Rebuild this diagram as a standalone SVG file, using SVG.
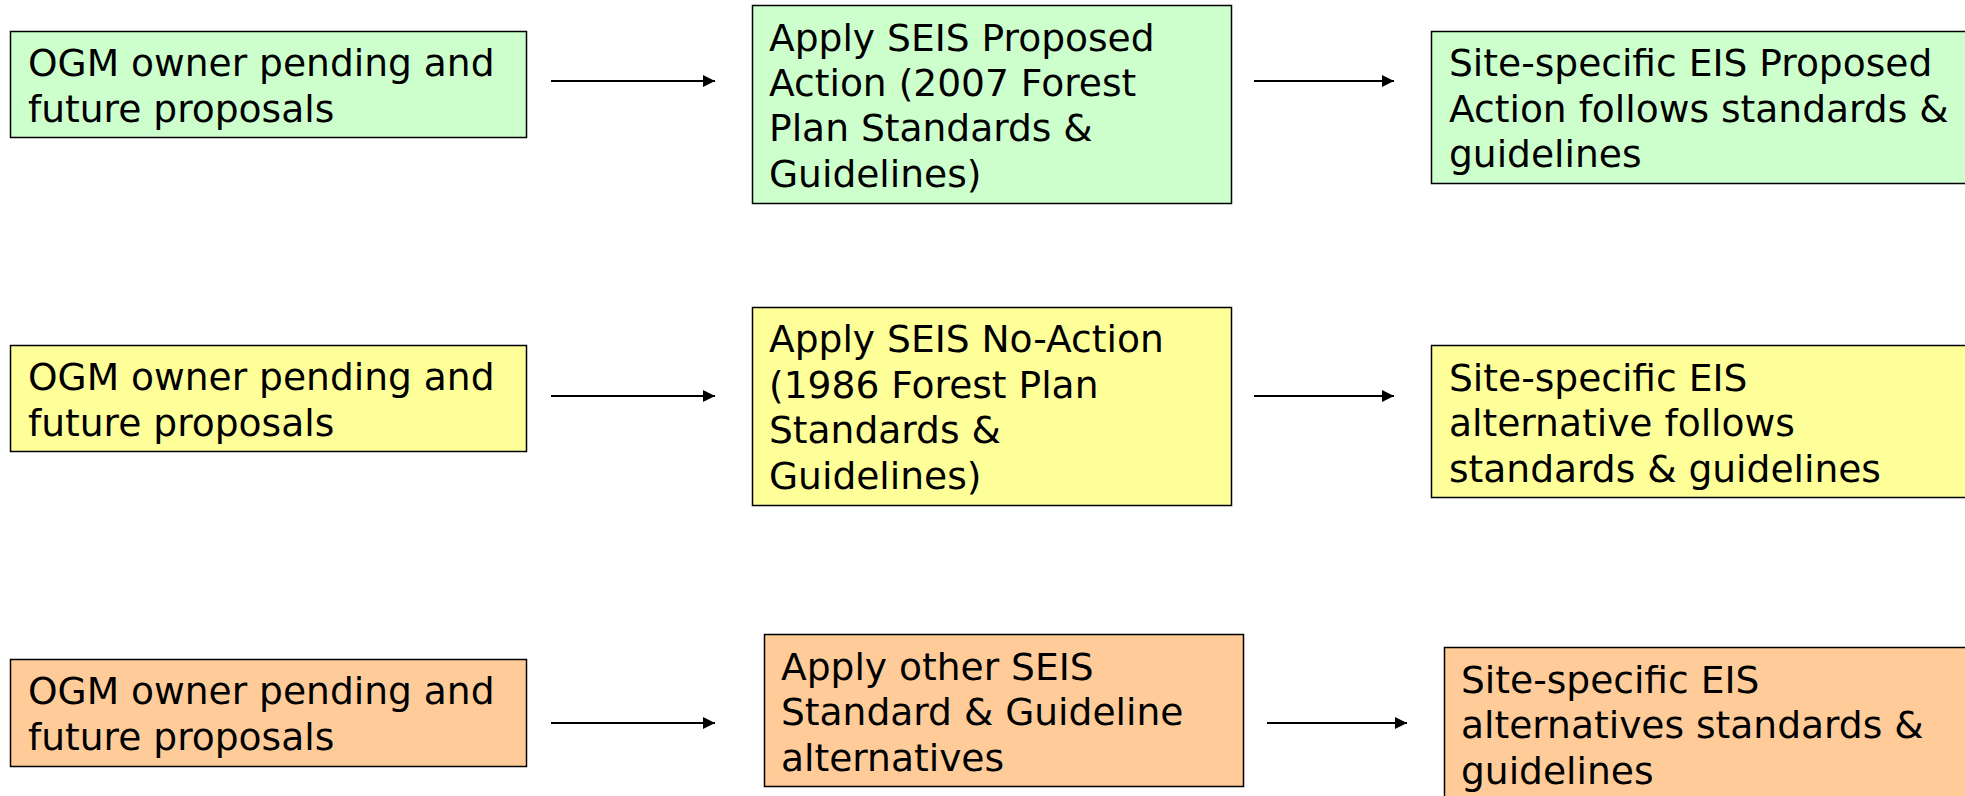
<svg xmlns="http://www.w3.org/2000/svg" width="1965" height="796" viewBox="0 0 1965 796">
<defs>
<style>
.box{stroke:#000;stroke-width:1.5}
.g{fill:#CCFFCC}
.y{fill:#FFFF99}
.o{fill:#FFCC99}
text{font-family:"DejaVu Sans","Verdana","Liberation Sans",sans-serif;font-size:37.6px;fill:#000}
.conn line{stroke:#000;stroke-width:2}
</style>
<marker id="ah" markerWidth="12" markerHeight="12" refX="12" refY="6" orient="auto" markerUnits="userSpaceOnUse">
<path d="M0,0 L12,6 L0,12 z" fill="#000"/>
</marker>
</defs>
<rect width="1965" height="796" fill="#fff"/>

<g id="a1"><rect class="box g" x="10.5" y="31.5" width="516" height="106"/>
<text x="28" y="76">OGM owner pending and</text><text x="28" y="122">future proposals</text></g>
<g id="b1"><rect class="box g" x="752.5" y="5.5" width="479" height="198"/>
<text x="769" y="51">Apply SEIS Proposed</text><text x="769" y="96">Action (2007 Forest</text><text x="769" y="141">Plan Standards &amp;</text><text x="769" y="187">Guidelines)</text></g>
<g id="c1"><rect class="box g" x="1431.5" y="31.5" width="540" height="152"/>
<text x="1449" y="76">Site-specific EIS Proposed</text><text x="1449" y="122">Action follows standards &amp;</text><text x="1449" y="167">guidelines</text></g>

<g id="a2"><rect class="box y" x="10.5" y="345.5" width="516" height="106"/>
<text x="28" y="390">OGM owner pending and</text><text x="28" y="436">future proposals</text></g>
<g id="b2"><rect class="box y" x="752.5" y="307.5" width="479" height="198"/>
<text x="769" y="352">Apply SEIS No-Action</text><text x="769" y="398">(1986 Forest Plan</text><text x="769" y="443">Standards &amp;</text><text x="769" y="489">Guidelines)</text></g>
<g id="c2"><rect class="box y" x="1431.5" y="345.5" width="540" height="152"/>
<text x="1449" y="391">Site-specific EIS</text><text x="1449" y="436">alternative follows</text><text x="1449" y="482">standards &amp; guidelines</text></g>

<g id="a3"><rect class="box o" x="10.5" y="659.5" width="516" height="107"/>
<text x="28" y="704">OGM owner pending and</text><text x="28" y="750">future proposals</text></g>
<g id="b3"><rect class="box o" x="764.5" y="634.5" width="479" height="152"/>
<text x="781" y="680">Apply other SEIS</text><text x="781" y="725">Standard &amp; Guideline</text><text x="781" y="771">alternatives</text></g>
<g id="c3"><rect class="box o" x="1444.5" y="647.5" width="540" height="160"/>
<text x="1461" y="693">Site-specific EIS</text><text x="1461" y="738">alternatives standards &amp;</text><text x="1461" y="784">guidelines</text></g>

<g class="conn" id="connectors">
<line x1="551" y1="81" x2="715" y2="81" marker-end="url(#ah)"/>
<line x1="1254" y1="81" x2="1394" y2="81" marker-end="url(#ah)"/>
<line x1="551" y1="396" x2="715" y2="396" marker-end="url(#ah)"/>
<line x1="1254" y1="396" x2="1394" y2="396" marker-end="url(#ah)"/>
<line x1="551" y1="723" x2="715" y2="723" marker-end="url(#ah)"/>
<line x1="1267" y1="723" x2="1407" y2="723" marker-end="url(#ah)"/>
</g>
</svg>
